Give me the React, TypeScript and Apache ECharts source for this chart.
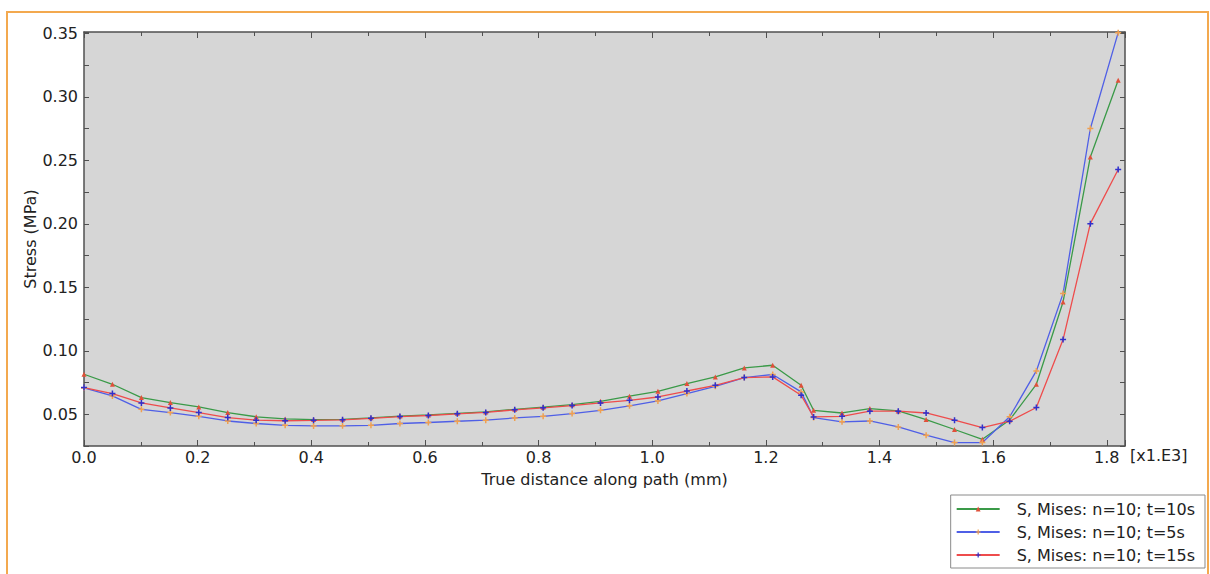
import React, { useEffect, useRef } from "react";
import * as echarts from "echarts";

const distance = [
  0, 0.05, 0.101, 0.152, 0.202, 0.253, 0.303, 0.354, 0.404, 0.455, 0.505, 0.556,
  0.606, 0.657, 0.707, 0.758, 0.808, 0.859, 0.909, 0.96, 1.01, 1.061, 1.111,
  1.162, 1.212, 1.262, 1.284, 1.334, 1.383, 1.433, 1.482, 1.532, 1.581, 1.629,
  1.676, 1.723, 1.771, 1.82,
];

const stress10 = [
  0.0815, 0.0736, 0.0631, 0.0592, 0.0558, 0.0513, 0.048, 0.0463, 0.0458, 0.046,
  0.0472, 0.0486, 0.0494, 0.0507, 0.0518, 0.0539, 0.0556, 0.0575, 0.0602, 0.0642,
  0.0681, 0.0742, 0.0794, 0.0865, 0.0886, 0.0728, 0.0531, 0.051, 0.0545, 0.0526,
  0.0458, 0.038, 0.0303, 0.0455, 0.0736, 0.1384, 0.2526, 0.313,
];

const stress5 = [
  0.0707, 0.0644, 0.0539, 0.0513, 0.0484, 0.0447, 0.0427, 0.0413, 0.0408, 0.0409,
  0.0413, 0.0427, 0.0435, 0.0445, 0.0453, 0.0471, 0.0484, 0.0505, 0.0531, 0.0566,
  0.0605, 0.0663, 0.072, 0.0789, 0.0813, 0.0676, 0.0474, 0.044, 0.0447, 0.04,
  0.0335, 0.0277, 0.0277, 0.048, 0.0841, 0.145, 0.275, 0.3505,
];

const stress15 = [
  0.071, 0.0663, 0.0589, 0.055, 0.0513, 0.0474, 0.0453, 0.0449, 0.0452, 0.0456,
  0.0468, 0.0482, 0.049, 0.0503, 0.0514, 0.0535, 0.0551, 0.0568, 0.0589, 0.061,
  0.0636, 0.0683, 0.0728, 0.0789, 0.0794, 0.065, 0.0479, 0.0484, 0.0524, 0.0524,
  0.051, 0.0453, 0.0395, 0.0445, 0.0553, 0.1088, 0.2001, 0.2427,
];

const seriesNames = [
  "S, Mises: n=10; t=10s",
  "S, Mises: n=10; t=5s",
  "S, Mises: n=10; t=15s",
];

const FONT = "DejaVu Sans";
const FS = 16;
const PLUS = "path://M-1,-4H1V-1H4V1H1V4H-1V1H-4V-1H-1Z";

export default function App() {
  const ref = useRef<HTMLDivElement>(null);
  useEffect(() => {
    if (!ref.current) return;
    const chart = echarts.init(ref.current, null, { renderer: "svg" });
    const axisLineStyle = { color: "#505050", width: 1.5 };
    const xCommon = {
      type: "value" as const,
      min: 0,
      max: 1.832,
      interval: 0.2,
      splitLine: { show: false },
      axisLine: { show: true, onZero: false, lineStyle: axisLineStyle },
      axisTick: { show: true, inside: true, length: 6, lineStyle: { color: "#505050" } },
      minorTick: { show: true, splitNumber: 2, length: 4, lineStyle: { color: "#505050" } },
    };
    const yCommon = {
      type: "value" as const,
      min: 0.025,
      max: 0.351,
      interval: 0.025,
      splitLine: { show: false },
      axisLine: { show: true, onZero: false, lineStyle: axisLineStyle },
      axisTick: { show: true, inside: true, length: 5, lineStyle: { color: "#505050" } },
    };
    const mk = (vals: number[]) => distance.map((d, i) => [d, vals[i]]);
    chart.setOption({
      animation: false,
      textStyle: { fontFamily: FONT },
      grid: {
        left: 84,
        right: 85,
        top: 32,
        bottom: 128,
        show: true,
        backgroundColor: "#d6d6d6",
        borderWidth: 0,
      },
      xAxis: [
        {
          ...xCommon,
          position: "bottom",
          name: "True distance along path (mm)",
          nameLocation: "middle",
          nameGap: 25,
          nameMoveOverlap: false,
          nameTextStyle: { fontSize: FS, color: "#222", fontFamily: FONT },
          axisLabel: {
            show: true,
            showMaxLabel: false,
            margin: 3,
            fontSize: FS,
            color: "#222",
            fontFamily: FONT,
            formatter: (v: number) =>
              Math.abs(Math.round(v / 0.2) * 0.2 - v) < 1e-6 ? v.toFixed(1) : "",
          },
        },
        {
          ...xCommon,
          position: "top",
          axisLabel: { show: false },
        },
      ],
      yAxis: [
        {
          ...yCommon,
          position: "left",
          name: "Stress (MPa)",
          nameLocation: "middle",
          nameGap: 46,
          nameMoveOverlap: false,
          nameTextStyle: { fontSize: FS, color: "#222", fontFamily: FONT },
          axisLabel: {
            show: true,
            margin: 6,
            fontSize: FS,
            color: "#222",
            fontFamily: FONT,
            formatter: (v: number) =>
              Math.abs(Math.round(v / 0.05) * 0.05 - v) < 1e-6 ? v.toFixed(2) : "",
          },
        },
        {
          ...yCommon,
          position: "right",
          axisLabel: { show: false },
        },
      ],
      legend: {
        orient: "vertical",
        right: 5,
        bottom: 6,
        backgroundColor: "#ffffff",
        borderColor: "#8a8a8a",
        borderWidth: 1,
        padding: [6, 10, 5, 5],
        itemGap: 7,
        itemWidth: 43,
        itemHeight: 6,
        textStyle: {
          fontSize: FS,
          color: "#222",
          fontFamily: FONT,
          padding: [0, 0, 0, 12],
        },
        data: seriesNames,
      },
      series: [
        {
          name: seriesNames[0],
          type: "line",
          data: mk(stress10),
          symbol: "triangle",
          symbolSize: 5,
          lineStyle: { color: "#3a9a48", width: 1.3 },
          itemStyle: { color: "#e0503a" },
        },
        {
          name: seriesNames[1],
          type: "line",
          data: mk(stress5),
          symbol: PLUS,
          symbolSize: 6,
          lineStyle: { color: "#4f5fe6", width: 1.3 },
          itemStyle: { color: "#f0a050" },
        },
        {
          name: seriesNames[2],
          type: "line",
          data: mk(stress15),
          symbol: PLUS,
          symbolSize: 6,
          lineStyle: { color: "#ee4c4c", width: 1.3 },
          itemStyle: { color: "#3030cc" },
        },
      ],
      graphic: [
        {
          type: "rect",
          shape: { x: 7, y: 12, width: 1201, height: 620 },
          style: { fill: "none", stroke: "#f3a94f", lineWidth: 2 },
          silent: true,
          z: -10,
        },
        {
          type: "text",
          left: 1130,
          top: 447,
          style: { text: "[x1.E3]", fontSize: FS, fill: "#222", fontFamily: FONT },
        },
      ],
    });
    return () => chart.dispose();
  }, []);
  return (
    <div
      ref={ref}
      style={{ position: "fixed", left: 0, top: 0, width: 1210, height: 574, background: "#fff" }}
    />
  );
}
